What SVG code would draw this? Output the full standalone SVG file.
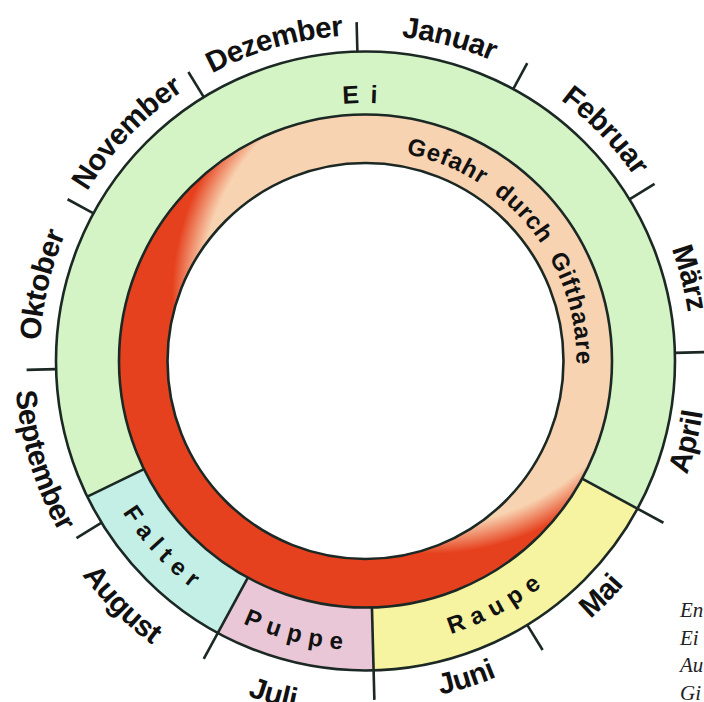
<svg xmlns="http://www.w3.org/2000/svg" width="704" height="702" viewBox="0 0 704 702">
<style>
.ln{stroke:#1b2824;stroke-width:2.6;}
.tick{stroke:#1b2824;stroke-width:2.6;fill:none;}
.month{font-family:"Liberation Sans",Arial,sans-serif;font-weight:bold;font-size:29.5px;fill:#111;letter-spacing:-0.5px;}
.phase{font-family:"Liberation Sans",Arial,sans-serif;font-weight:bold;font-size:24px;fill:#111;letter-spacing:7.5px;}
.ei{font-family:"Liberation Sans",Arial,sans-serif;font-weight:bold;font-size:25px;fill:#111;letter-spacing:2px;}
.gefahr{font-family:"Liberation Sans",Arial,sans-serif;font-weight:bold;font-size:24px;fill:#111;letter-spacing:0.8px;word-spacing:7px;}
.note{font-family:"Liberation Serif","Times New Roman",serif;font-style:italic;font-size:21px;fill:#222;}
</style>
<defs>
<radialGradient id="danger" gradientUnits="userSpaceOnUse" cx="64.7" cy="-65.2" r="270">
<stop offset="0.85" stop-color="#f8d3b1"/>
<stop offset="0.955" stop-color="#e6411e"/>
</radialGradient>
<path id="up326" d="M0,326 A326,326 0 1 1 0,-326 A326,326 0 1 1 0,326"/>
<path id="up211" d="M0,211 A211,211 0 1 1 0,-211 A211,211 0 1 1 0,211"/>
<path id="up258" d="M0,258 A258,258 0 1 1 0,-258 A258,258 0 1 1 0,258"/>
<path id="lo341" d="M0,-341 A341,341 0 1 0 0,341 A341,341 0 1 0 0,-341"/>
<path id="lo342" d="M0,-342 A342,342 0 1 0 0,342 A342,342 0 1 0 0,-342"/>
<path id="lo351" d="M0,-351 A351,351 0 1 0 0,351 A351,351 0 1 0 0,-351"/>
<path id="lo355" d="M0,-355 A355,355 0 1 0 0,355 A355,355 0 1 0 0,-355"/>
<path id="lo286" d="M0,-286 A286,286 0 1 0 0,286 A286,286 0 1 0 0,-286"/>
<path id="lo289" d="M0,-289.5 A289.5,289.5 0 1 0 0,289.5 A289.5,289.5 0 1 0 0,-289.5"/>
</defs>
<rect width="704" height="702" fill="#ffffff"/>
<g transform="translate(365.5,361)">
<g id="ei">
<circle r="309.5" fill="#d4f4c6"/>
<text class="ei"><textPath href="#up258" startOffset="805.7" text-anchor="middle">E i</textPath></text>
</g>
<g id="raupe">
<path d="M271.99,147.68 A309.5,309.5 0 0 1 8.10,309.39 L6.45,246.42 A246.5,246.5 0 0 0 216.63,117.62 Z" fill="#f6f4a0"/>
<text class="phase"><textPath href="#lo286" startOffset="1040" text-anchor="middle">Raupe</textPath></text>
</g>
<g id="puppe">
<path d="M8.10,309.39 A309.5,309.5 0 0 1 -147.68,271.99 L-117.62,216.63 A246.5,246.5 0 0 0 6.45,246.42 Z" fill="#e9c7d6"/>
<text class="phase"><textPath href="#lo289" startOffset="838" text-anchor="middle">Puppe</textPath></text>
</g>
<g id="falter">
<path d="M-147.68,271.99 A309.5,309.5 0 0 1 -278.18,135.68 L-221.55,108.06 A246.5,246.5 0 0 0 -117.62,216.63 Z" fill="#c3efe6"/>
<text class="phase"><textPath href="#lo286" startOffset="663.6" text-anchor="middle">Falter</textPath></text>
</g>
<circle r="309.5" fill="none" class="ln"/>
<g id="gefahr">
<circle r="246.5" fill="url(#danger)" class="ln"/>
<circle r="198" fill="#ffffff" class="ln"/>
<text class="gefahr"><textPath href="#up211" startOffset="850.7" text-anchor="middle">Gefahr durch Gifthaare</textPath></text>
</g>
<g id="connectors">
<line class="tick" x1="0" y1="-309.5" x2="0" y2="-339" transform="rotate(-1.5)"/>
<line class="tick" x1="0" y1="-309.5" x2="0" y2="-339" transform="rotate(28.5)"/>
<line class="tick" x1="0" y1="-309.5" x2="0" y2="-339" transform="rotate(58.5)"/>
<line class="tick" x1="0" y1="-309.5" x2="0" y2="-339" transform="rotate(88.5)"/>
<line class="tick" x1="0" y1="-246.5" x2="0" y2="-339" transform="rotate(118.5)"/>
<line class="tick" x1="0" y1="-309.5" x2="0" y2="-339" transform="rotate(148.5)"/>
<line class="tick" x1="0" y1="-246.5" x2="0" y2="-339" transform="rotate(178.5)"/>
<line class="tick" x1="0" y1="-246.5" x2="0" y2="-339" transform="rotate(208.5)"/>
<line class="tick" x1="0" y1="-309.5" x2="0" y2="-339" transform="rotate(238.5)"/>
<line class="tick" x1="0" y1="-246.5" x2="0" y2="-309.5" transform="rotate(244)"/>
<line class="tick" x1="0" y1="-309.5" x2="0" y2="-339" transform="rotate(268.5)"/>
<line class="tick" x1="0" y1="-309.5" x2="0" y2="-339" transform="rotate(298.5)"/>
<line class="tick" x1="0" y1="-309.5" x2="0" y2="-339" transform="rotate(328.5)"/>
</g>
<g id="months">
<text class="month"><textPath href="#up326" startOffset="587.2" text-anchor="middle">Oktober</textPath></text>
<text class="month"><textPath href="#up326" startOffset="760.2" text-anchor="middle">November</textPath></text>
<text class="month"><textPath href="#up326" startOffset="932.6" text-anchor="middle">Dezember</textPath></text>
<text class="month"><textPath href="#up326" startOffset="1106.7" text-anchor="middle">Januar</textPath></text>
<text class="month"><textPath href="#up326" startOffset="1285.9" text-anchor="middle">Februar</textPath></text>
<text class="month"><textPath href="#up326" startOffset="1453.7" text-anchor="middle">März</textPath></text>
<text class="month"><textPath href="#lo341" startOffset="1522.4" text-anchor="middle">April</textPath></text>
<text class="month"><textPath href="#lo342" startOffset="1343.0" text-anchor="middle">Mai</textPath></text>
<text class="month"><textPath href="#lo342" startOffset="1178.9" text-anchor="middle">Juni</textPath></text>
<text class="month"><textPath href="#lo355" startOffset="1019.2" text-anchor="middle">Juli</textPath></text>
<text class="month"><textPath href="#lo355" startOffset="836.5" text-anchor="middle">August</textPath></text>
<text class="month"><textPath href="#lo351" startOffset="655.5" text-anchor="middle">September</textPath></text>
</g>
</g>
<g id="note">
<text class="note" x="680" y="617">En</text>
<text class="note" x="680" y="645">Ei</text>
<text class="note" x="680" y="672">Au</text>
<text class="note" x="680" y="700">Gi</text>
</g>
</svg>
